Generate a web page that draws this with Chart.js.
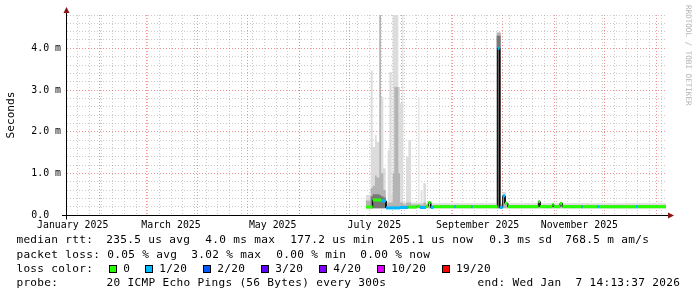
<!DOCTYPE html>
<html>
<head>
<meta charset="utf-8">
<title>Smokeping - last 360 days</title>
<script src="https://cdn.jsdelivr.net/npm/chart.js@4.4.1/dist/chart.umd.min.js"></script>
<style>
  body { margin: 0; background: #fff; }
  #wrap { position: relative; width: 697px; height: 297px; overflow: hidden; }
  #graph { position: absolute; left: 0; top: 0; }
  .lg { position: absolute; font: 11.1px "DejaVu Sans Mono", monospace; letter-spacing: 0.31px; color: #000; white-space: pre; line-height: 14px; }
  .sw { position: absolute; width: 6px; height: 6px; border: 1px solid #000; }
  #mark { position: absolute; left: 693px; top: 5px; font: 7.6px "DejaVu Sans Mono", monospace; line-height: 9px;
          color: #b0b0b0; white-space: pre; transform-origin: 0 0; transform: rotate(90deg); }
</style>
</head>
<body>
<div id="wrap">
  <canvas id="graph" width="697" height="297"></canvas>
  <div id="mark">RRDTOOL / TOBI OETIKER</div>

  <div class="lg" style="left:16.4px;top:233.2px">median rtt:</div>
  <div class="lg" style="left:106.3px;top:233.2px">235.5 us avg</div>
  <div class="lg" style="left:205.3px;top:233.2px">4.0 ms max</div>
  <div class="lg" style="left:290.3px;top:233.2px">177.2 us min</div>
  <div class="lg" style="left:389.3px;top:233.2px">205.1 us now</div>
  <div class="lg" style="left:489.3px;top:233.2px">0.3 ms sd</div>
  <div class="lg" style="left:565.3px;top:233.2px">768.5 m am/s</div>

  <div class="lg" style="left:16.4px;top:247.5px">packet loss:</div>
  <div class="lg" style="left:107.3px;top:247.5px">0.05 % avg</div>
  <div class="lg" style="left:191.3px;top:247.5px">3.02 % max</div>
  <div class="lg" style="left:276.3px;top:247.5px">0.00 % min</div>
  <div class="lg" style="left:360.3px;top:247.5px">0.00 % now</div>

  <div class="lg" style="left:16.4px;top:261.7px">loss color:</div>
  <div id="lossRow"></div>

  <div class="lg" style="left:16.4px;top:275.9px">probe:</div>
  <div class="lg" style="left:106.6px;top:275.9px">20 ICMP Echo Pings (56 Bytes) every 300s</div>
  <div class="lg" style="left:477.6px;top:275.9px">end: Wed Jan  7 14:13:37 2026</div>
</div>
<script>
// x values are days since 2025-01-01 00:00, y values are milliseconds
const endDay = 371.593;          // Wed Jan 7 14:13:37 2026
const startDay = endDay - 360;   // last 360 days
const dataEnd = 371.0;

// loss colours (smokeping defaults)
const lossSteps  = [0, 1, 2, 3, 4, 10, 19];
const lossNames  = ['0', '1/20', '2/20', '3/20', '4/20', '10/20', '19/20'];
const lossColors = ['#26ff00', '#00b8ff', '#0059ff', '#5e00ff', '#7e00ff', '#dd00ff', '#ff0000'];

// median rtt, as runs: start day, value (ms), lost pings of 20
const medianStart = [191.0, 195.0, 200.0, 203.0, 211.4, 216.4, 221.4, 223.4, 227.0, 228.4, 229.8, 231.4,
                     244.0, 245.0, 254.0, 255.0, 270.0, 271.2, 273.0, 274.4, 276.0, 294.4, 295.4, 302.8,
                     303.6, 307.4, 308.8, 320.0, 321.0, 330.0, 331.0, 353.0, 354.0];
const medianMs    = [0.19, 0.36, 0.34, 0.17, 0.18, 0.19, 0.21, 0.18, 0.21, 0.30, 0.18, 0.20,
                     0.20, 0.20, 0.20, 0.20, 4.00, 0.18, 0.46, 0.28, 0.20, 0.32, 0.20, 0.25,
                     0.20, 0.28, 0.20, 0.20, 0.20, 0.20, 0.20, 0.20, 0.20];
const medianLoss  = [0, 0, 1, 1, 1, 0, 0, 1, 0, 0, 1, 0,
                     1, 0, 1, 0, 1, 1, 1, 0, 0, 0, 0, 0,
                     0, 0, 0, 1, 0, 1, 0, 1, 0];

// smoke (ping spread), as steps: start day and upper edge of each grey layer (ms)
const smokeStart = [190.8, 193.8, 195.0, 196.4, 197.4, 199.0, 200.0, 201.4, 202.8, 204.0, 205.0, 206.4,
                    207.0, 208.0, 210.4, 211.4, 212.8, 213.4, 215.0, 216.4, 218.0, 222.4, 223.0, 223.8,
                    224.8, 225.4, 227.0, 269.4, 271.8, 273.0, 275.0];
const smokeLight = [0.48, 3.47, 1.63, 1.92, 1.75, 4.80, 2.83, 1.12, 0.32, 1.55, 3.43, 0.50,
                    4.80, 4.80, 3.07, 2.68, 4.80, 0.30, 1.39, 1.80, 0.30, 2.83, 0.30, 0.60,
                    0.30, 0.76, 0.28, 4.38, 0.30, 0.55, 0.28];
const smokeMid   = [0.35, 0.65, 0.70, 0.95, 0.90, 4.80, 1.00, 0.60, 0.25, 0.30, 0.30, 0.30,
                    1.00, 3.07, 1.00, 0.30, 0.30, 0.25, 0.30, 0.30, 0.25, 0.25, 0.25, 0.25,
                    0.25, 0.30, 0.24, 4.38, 0.25, 0.45, 0.24];
const smokeDark  = [0.16, 0.45, 0.50, 0.50, 0.50, 0.48, 0.45, 0.42, 0.16, 0.16, 0.16, 0.16,
                    0.16, 0.16, 0.16, 0.16, 0.16, 0.16, 0.16, 0.16, 0.16, 0.16, 0.16, 0.16,
                    0.16, 0.16, 0.16, 4.30, 0.16, 0.16, 0.16];
const smokeBase = 0.16;

// axis labels
const xLabelDays = [15, 74, 135, 196, 258, 319];
const xLabelText = ['January 2025', 'March 2025', 'May 2025', 'July 2025', 'September 2025', 'November 2025'];
const monthStarts = [31, 59, 90, 120, 151, 181, 212, 243, 273, 304, 334, 365];
const yLabelMs = [0, 1, 2, 3, 4];
const yLabelText = ['0.0  ', '1.0 m', '2.0 m', '3.0 m', '4.0 m'];

const minorGrid = 'rgba(160,160,160,0.55)';
const majorGrid = 'rgba(235,110,110,0.75)';
const axisFont = { family: 'DejaVu Sans Mono', size: 9.9 };

function lossColor(n) {
  let c = lossColors[0];
  lossSteps.forEach((s, i) => { if (n >= s) c = lossColors[i]; });
  return c;
}

// legend swatches
const swatchX = [109.3, 145.3, 203.3, 261.3, 319.3, 377.3, 442];
const row = document.getElementById('lossRow');
lossNames.forEach((name, i) => {
  const b = document.createElement('div');
  b.className = 'sw';
  b.style.left = swatchX[i] + 'px';
  b.style.top = '264.5px';
  b.style.background = lossColors[i];
  row.appendChild(b);
  const t = document.createElement('div');
  t.className = 'lg';
  t.style.left = (swatchX[i] + 14) + 'px';
  t.style.top = '261.7px';
  t.textContent = name;
  row.appendChild(t);
});

// median points: each run becomes a flat piece
const medianPts = [];
const medianPtLoss = [];
medianStart.forEach((d, i) => {
  const end = i + 1 < medianStart.length ? medianStart[i + 1] : dataEnd;
  medianPts.push({ x: d, y: medianMs[i] }, { x: end, y: medianMs[i] });
  medianPtLoss.push(medianLoss[i], medianLoss[i]);
});

function smokePts(values) {
  const pts = smokeStart.map((d, i) => ({ x: d, y: values[i] }));
  pts.push({ x: dataEnd, y: values[values.length - 1] });
  return pts;
}

function smokeSet(values, color, order) {
  return {
    data: smokePts(values), stepped: true, order: order,
    fill: { value: smokeBase }, backgroundColor: color,
    borderColor: 'rgba(0,0,0,0)', borderWidth: 0, pointRadius: 0
  };
}

// x ticks: weekly minor lines, monthly major lines, month labels
const xTicks = [];
for (let d = 18; d < endDay; d += 7) xTicks.push({ value: d, kind: 'minor' });
monthStarts.forEach(d => xTicks.push({ value: d, kind: 'major' }));
xLabelDays.forEach((d, i) => xTicks.push({ value: d, kind: 'label', text: xLabelText[i] }));
xTicks.sort((a, b) => a.value - b.value);

const axisArrows = {
  id: 'axisArrows',
  afterDraw(chart) {
    const { ctx, chartArea: a } = chart;
    const y0 = Math.round(chart.scales.y.getPixelForValue(0)) + 0.5;
    const x0 = a.left - 0.5;
    ctx.save();
    ctx.strokeStyle = '#000';
    ctx.lineWidth = 1;
    ctx.beginPath();
    ctx.moveTo(a.left - 5, y0);
    ctx.lineTo(a.right + 2, y0);
    ctx.moveTo(x0, y0 + 4);
    ctx.lineTo(x0, a.top - 2);
    ctx.stroke();
    ctx.fillStyle = '#8a1414';
    ctx.beginPath();
    ctx.moveTo(x0 - 3, a.top - 2);
    ctx.lineTo(x0 + 3, a.top - 2);
    ctx.lineTo(x0, a.top - 8);
    ctx.closePath();
    ctx.fill();
    ctx.beginPath();
    ctx.moveTo(a.right + 1, y0 - 3);
    ctx.lineTo(a.right + 1, y0 + 3);
    ctx.lineTo(a.right + 7, y0);
    ctx.closePath();
    ctx.fill();
    ctx.restore();
  }
};

new Chart(document.getElementById('graph'), {
  type: 'line',
  data: {
    datasets: [
      smokeSet(smokeLight, '#dcdcdc', 5),
      smokeSet(smokeMid, '#b4b4b4', 4),
      smokeSet(smokeDark, '#787878', 3),
      {
        data: medianPts, order: 2, borderColor: '#000', borderWidth: 1,
        pointRadius: 0, fill: false
      },
      {
        data: medianPts, order: 1, borderWidth: 3, pointRadius: 0, fill: false,
        borderColor: lossColors[0],
        segment: {
          borderColor: c => c.p0.parsed.y === c.p1.parsed.y
            ? lossColor(medianPtLoss[c.p0DataIndex]) : 'rgba(0,0,0,0)'
        }
      }
    ]
  },
  options: {
    responsive: false,
    animation: false,
    devicePixelRatio: 1,
    layout: { padding: { left: 0, top: 15, right: 30, bottom: 0 } },
    plugins: { legend: { display: false }, tooltip: { enabled: false } },
    scales: {
      x: {
        type: 'linear', min: startDay, max: endDay, bounds: 'data',
        afterBuildTicks: s => { s.ticks = xTicks.map(t => Object.assign({}, t)); },
        afterFit: s => { s.height = 82; },
        ticks: {
          autoSkip: false, maxRotation: 0, minRotation: 0, padding: 4,
          color: '#000', font: axisFont,
          callback: (v, i, ticks) => ticks[i].kind === 'label' ? ticks[i].text : ''
        },
        grid: {
          drawTicks: false, lineWidth: 1,
          color: c => c.tick.kind === 'major' ? majorGrid : (c.tick.kind === 'minor' ? minorGrid : 'rgba(0,0,0,0)')
        },
        border: { display: false, dash: [1, 2] }
      },
      y: {
        min: 0, max: 4.8, bounds: 'data',
        afterBuildTicks: s => { s.ticks = Array.from({ length: 25 }, (_, i) => ({ value: i / 5, major5: i % 5 === 0 })); },
        afterFit: s => { s.width = 67; },
        ticks: {
          autoSkip: false, padding: 6, color: '#000', font: axisFont,
          callback: v => { const i = yLabelMs.indexOf(v); return i < 0 ? '' : yLabelText[i]; }
        },
        grid: {
          drawTicks: false, lineWidth: 1,
          color: c => c.tick.major5 ? majorGrid : minorGrid
        },
        border: { display: false, dash: [1, 2] },
        title: {
          display: true, text: 'Seconds', color: '#000',
          font: { family: 'DejaVu Sans Mono', size: 11.1 },
          padding: { top: 4.4, bottom: 0 }
        }
      }
    }
  },
  plugins: [axisArrows]
});
</script>
</body>
</html>
